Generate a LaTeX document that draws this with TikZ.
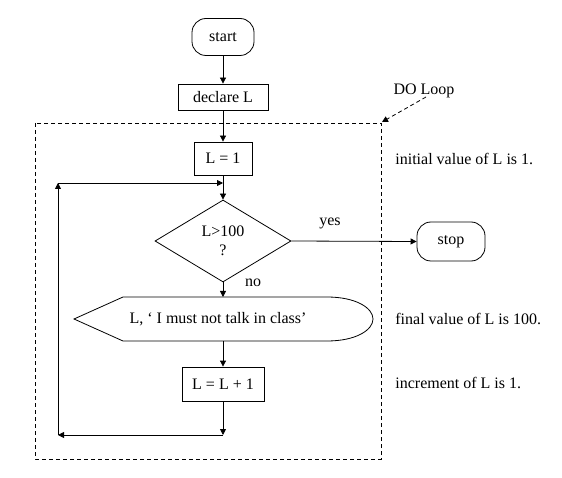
\documentclass[tikz,border=0pt]{standalone}
\usepackage{fontspec}
\setmainfont{Liberation Serif}
\usetikzlibrary{arrows.meta,shapes.geometric}
\begin{document}
\begin{tikzpicture}[x=1pt,y=-1pt, line width=0.8pt,
  font=\fontsize{16}{19}\selectfont,
  box/.style={draw, rectangle, inner sep=0pt, align=center},
  term/.style={draw, rectangle, rounded corners=14pt, inner sep=0pt},
  arr/.style={-{Triangle[length=6pt,width=6pt]}},
  dashbox/.style={dash pattern=on 4pt off 3pt},
  lbl/.style={inner sep=0pt, anchor=west}]
\useasboundingbox (0,0) rectangle (562,478);
% nodes
\node[term, minimum width=62pt, minimum height=37pt] (start) at (223,37) {start};
\node[box, minimum width=90pt, minimum height=26pt] (decl) at (223,97) {declare L};
\node[box, minimum width=58pt, minimum height=33pt] (l1) at (223,158.5) {L = 1};
\node[draw, diamond, inner sep=0pt, minimum width=136pt, minimum height=82pt, align=center] (dec) at (223,241) {L>100\\?};
\node[term, minimum width=68pt, minimum height=39pt] (stop) at (451,241.5) {stop};
% display shape
\coordinate (dl) at (74,319);
\coordinate (dtl) at (123,297);
\coordinate (dtr) at (327,297);
\coordinate (dr) at (373,319);
\coordinate (dbr) at (327,341);
\coordinate (dbl) at (123,341);
\draw (dl) -- (dtl) -- (dtr) .. controls (356,297) and (373,308) .. (dr)
      .. controls (373,330) and (356,341) .. (dbr) -- (dbl) -- cycle;
\node[inner sep=0pt] (disp) at (218,319) {L, ‘ I must not talk in class’};
\coordinate (disptop) at (223,297);
\coordinate (dispbot) at (223,341);
\node[box, minimum width=82pt, minimum height=34pt] (inc) at (223,384) {L = L + 1};
% loop coordinates
\coordinate (b) at (223,435);
\coordinate (bl) at (58,435);
\coordinate (tl) at (58,183);
\coordinate (tr) at (223,183);
% connectors
\draw[arr] (start) -- (decl);
\draw[arr] (decl) -- (l1);
\draw[arr] (l1) -- (dec);
\draw[arr] (dec) -- (disptop);
\draw[arr] (dispbot) -- (inc);
\draw[arr] (inc) -- (b);
\draw[arr] (b) -- (bl);
\draw[arr] (bl) -- (tl);
\draw[arr] (tl) -- (tr);
\draw[arr] (dec.east) -- (stop.west);
\node[inner sep=0pt] (yes) at (330,223) {yes};
\node[inner sep=0pt] (no) at (253,283) {no};
% dashed loop box
\draw[dashbox] (35,123) rectangle (381,459);
\coordinate (corner) at (382,122);
\node[inner sep=0pt] (doloop) at (424,91) {DO Loop};
\coordinate (dlstart) at (426,97);
\draw[dashbox, arr] (dlstart) -- (corner);
% annotations
\node[lbl] (ann1) at (395,159) {initial value of L is 1.};
\node[lbl] (ann2) at (395,319) {final value of L is 100.};
\node[lbl] (ann3) at (395,383) {increment of L is 1.};
\end{tikzpicture}
\end{document}
